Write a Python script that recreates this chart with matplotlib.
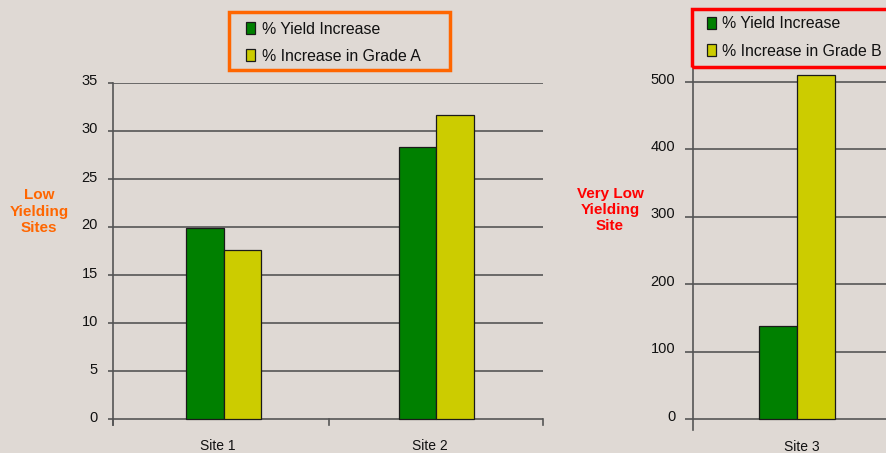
import matplotlib
matplotlib.use("Agg")
import matplotlib.pyplot as plt
from matplotlib.patches import Patch, Rectangle
from matplotlib.transforms import ScaledTranslation, blended_transform_factory
import numpy as np

plt.rcParams['font.family'] = ['Liberation Sans', 'DejaVu Sans']

# Data
sites_left = ["Site 1", "Site 2"]
yield_left = [19.9, 28.3]
grade_a = [17.6, 31.6]
yticks_left = [0, 5, 10, 15, 20, 25, 30, 35]

sites_right = ["Site 3"]
yield_right = [138]
grade_b = [510]
yticks_right = [0, 100, 200, 300, 400, 500]

BG = "#DFD9D4"
GREEN = "#008000"
YELLOW = "#CCCC00"
GRID = "#555555"
EDGE = "#1A1A1A"
TXT = "#111111"
W, H = 887, 453
DPI = 100

fig = plt.figure(figsize=(W / DPI, H / DPI), dpi=DPI, facecolor=BG)


def px_rect(x0, top, x1, bottom):
    return [x0 / W, 1 - bottom / H, (x1 - x0) / W, (bottom - top) / H]


def style_axes(ax, ticklen):
    ax.set_facecolor("none")
    for s in ["top", "right", "bottom"]:
        ax.spines[s].set_visible(False)
    ax.spines["left"].set_color(GRID)
    ax.spines["left"].set_linewidth(1.2)
    ax.yaxis.grid(True, color=GRID, linewidth=1.2)
    ax.set_axisbelow(True)
    ax.tick_params(axis="y", length=ticklen, width=1.2, color=GRID,
                   labelsize=10.5, pad=7.5, labelcolor=TXT)


# ---------------- Left axes ----------------
unit1 = 9.6  # px per unit
ymin1 = -6.3 / unit1
ax1 = fig.add_axes(px_rect(113.3, 82.7, 542.7, 425.0))
style_axes(ax1, 3.6)
x1 = np.arange(len(sites_left))
bw1 = 0.176
ax1.bar(x1 - bw1 / 2, yield_left, bw1, color=GREEN, edgecolor=EDGE, linewidth=0.9, zorder=3)
ax1.bar(x1 + bw1 / 2, grade_a, bw1, color=YELLOW, edgecolor=EDGE, linewidth=0.9, zorder=3)
ax1.set_ylim(ymin1, 35)
ax1.set_yticks(yticks_left)
ax1.set_xlim(-0.519, 1.5008)
ax1.set_xticks([])
ax1.set_xticks(x1 - 0.028, minor=True)
ax1.set_xticklabels(sites_left, minor=True)
ax1.tick_params(axis="x", which="minor", length=0, labelsize=10, pad=10, labelcolor=TXT)
bt = blended_transform_factory(ax1.transAxes, ax1.transData)
for xf in [0.0, 0.5016, 1.0]:
    ax1.plot([xf, xf], [0, ymin1], color=GRID, lw=1.2, transform=bt, clip_on=False, zorder=4)

# ---------------- Right axes ----------------
unit2 = 0.6746
ymin2 = -10.7 / unit2
ymax2 = 520
top2 = 419.3 - ymax2 * unit2
ax2 = fig.add_axes(px_rect(693.3, top2, 693.3 + 206.8, 430.0))
style_axes(ax2, 5.5)
x2 = np.arange(len(sites_right))
bw2 = 0.184
ax2.bar(x2 - bw2 / 2, yield_right, bw2, color=GREEN, edgecolor=EDGE, linewidth=0.9, zorder=3)
ax2.bar(x2 + bw2 / 2, grade_b, bw2, color=YELLOW, edgecolor=EDGE, linewidth=0.9, zorder=3)
ax2.set_ylim(ymin2, ymax2)
ax2.set_yticks(yticks_right)
ax2.set_xlim(-0.5, len(sites_right) - 0.5)
ax2.set_xticks([])
ax2.set_xticks(x2 + 0.024, minor=True)
ax2.set_xticklabels(sites_right, minor=True)
ax2.tick_params(axis="x", which="minor", length=0, labelsize=10, pad=7.5, labelcolor=TXT)

# ---------------- Legends ----------------
handles = [Patch(facecolor=GREEN, edgecolor=EDGE, linewidth=0.9),
           Patch(facecolor=YELLOW, edgecolor=EDGE, linewidth=0.9)]
leg_kw = dict(loc="upper left", fontsize=11.4, frameon=False,
              handlelength=0.6, handleheight=0.8, handletextpad=0.38,
              labelspacing=0.78, borderpad=0, borderaxespad=0, labelcolor=TXT)
fig.legend(handles, ["% Yield Increase", "% Increase in Grade A"],
           bbox_to_anchor=(246 / W, 1 - 21.5 / H), **leg_kw)
fig.legend(handles, ["% Yield Increase", "% Increase in Grade B"],
           bbox_to_anchor=(706.7 / W, 1 - 16.5 / H), **leg_kw)

# Legend frames
fig.patches.append(Rectangle((228.7 / W, 1 - 69.5 / H), (450.0 - 228.7) / W, (69.5 - 12.3) / H,
                             transform=fig.transFigure, fill=False,
                             edgecolor="#FF6600", linewidth=2.5, zorder=5))
fig.patches.append(Rectangle((691.8 / W, 1 - 66.6 / H), 300 / W, (66.6 - 8.5) / H,
                             transform=fig.transFigure, fill=False,
                             edgecolor="#FF0000", linewidth=2.5, zorder=5))

# ---------------- Side labels ----------------
fig.text(38.8 / W, 1 - 211.7 / H, "Low\nYielding\nSites", color="#FF6600", fontsize=11,
         fontweight="bold", ha="center", va="center", linespacing=1.2)
fig.text(610 / W, 1 - 210 / H, "Very Low\nYielding\nSite", color="#FF0000", fontsize=11,
         fontweight="bold", ha="center", va="center", linespacing=1.2)

# shift y tick labels slightly upward, as in the reference
fig.canvas.draw()
for ax, dy in [(ax1, 2.7), (ax2, 4.0)]:
    for lab in ax.yaxis.get_majorticklabels():
        lab.set_transform(lab.get_transform() + ScaledTranslation(0, dy / DPI, fig.dpi_scale_trans))

fig.savefig("out.png", dpi=DPI, facecolor=BG)
